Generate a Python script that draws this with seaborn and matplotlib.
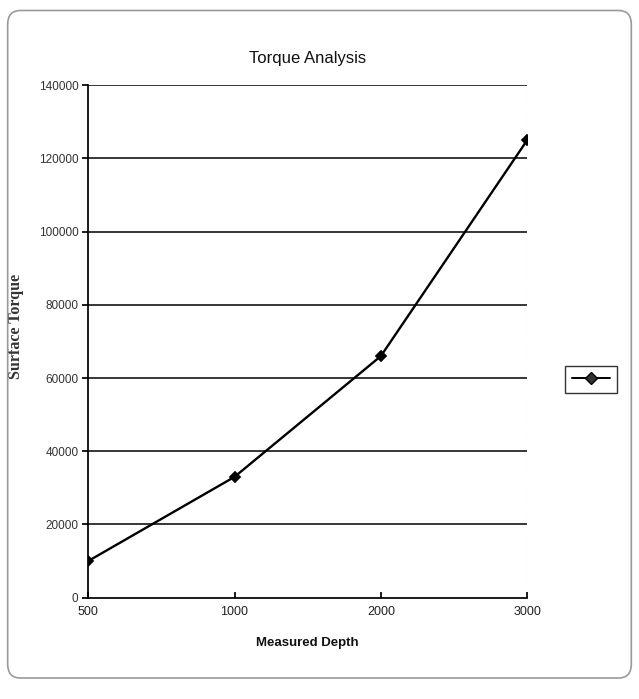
import matplotlib
matplotlib.use("Agg")
import matplotlib.pyplot as plt
import seaborn as sns
import pandas as pd
from matplotlib.lines import Line2D
from matplotlib.patches import FancyBboxPatch

depths = ["500", "1000", "2000", "3000"]
torque = [10000, 33000, 66000, 125000]
yticks = [0, 20000, 40000, 60000, 80000, 100000, 120000, 140000]

sns.set_theme(style="white")
plt.rcParams['font.family'] = ['Liberation Sans', 'DejaVu Sans']

df = pd.DataFrame({"Measured Depth": depths, "Surface Torque": torque})

fig = plt.figure(figsize=(6.39, 6.99), dpi=100)
fig.patch.set_facecolor("white")
border = FancyBboxPatch((0.012, 0.03), 0.976, 0.955, boxstyle="round,pad=0,rounding_size=0.02",
                        transform=fig.transFigure, fill=False, edgecolor="#9a9a9a", lw=1.2)
fig.patches.append(border)

ax = fig.add_axes([0.138, 0.145, 0.687, 0.733])
sns.pointplot(data=df, x="Measured Depth", y="Surface Torque", ax=ax, color="black",
              markers="D", linestyles="-", markersize=5, linewidth=1.7)
ax.set_ylim(0, 140000)
ax.set_xlim(0, len(depths) - 1)
ax.set_yticks(yticks)
ax.set_yticklabels([str(t) for t in yticks], fontsize=8.5, color="#333333")
ax.set_xticks(range(len(depths)))
ax.set_xticklabels(depths, fontsize=9, color="#222222")
for y in yticks[1:]:
    ax.axhline(y, color="black", lw=1.1, zorder=0)
for s in ["top", "right"]:
    ax.spines[s].set_visible(False)
ax.axvline(len(depths) - 1, color="#bbbbbb", lw=0.8, ls=":", zorder=0)
ax.spines["left"].set_color("black")
ax.spines["bottom"].set_color("black")
ax.tick_params(axis="y", which="both", left=True, length=4, color="black", direction="out", pad=3)
ax.tick_params(axis="x", which="both", bottom=True, length=4, color="black", direction="in", pad=6)
ax.set_xlabel("Measured Depth", fontsize=9.5, fontweight="bold", labelpad=14, color="#111111")
ax.set_ylabel("Surface Torque", fontsize=11.5, fontweight="bold", family=["Liberation Serif", "DejaVu Serif"],
              color="#333333")
ax.yaxis.set_label_coords(-0.146, 0.53)
ax.set_title("Torque Analysis", fontsize=12, pad=16, color="#111111")

handle = Line2D([], [], color="black", marker="D", markersize=6, lw=1.4,
                markerfacecolor="#333333")
fig.legend(handles=[handle], labels=[""], loc="center", bbox_to_anchor=(591/639, 1 - 379/699),
           frameon=True, fancybox=False, edgecolor="black", handlelength=3.0,
           borderpad=0.6, handletextpad=0.0, fontsize=9)

fig.savefig("out.png", dpi=100, facecolor="white")
